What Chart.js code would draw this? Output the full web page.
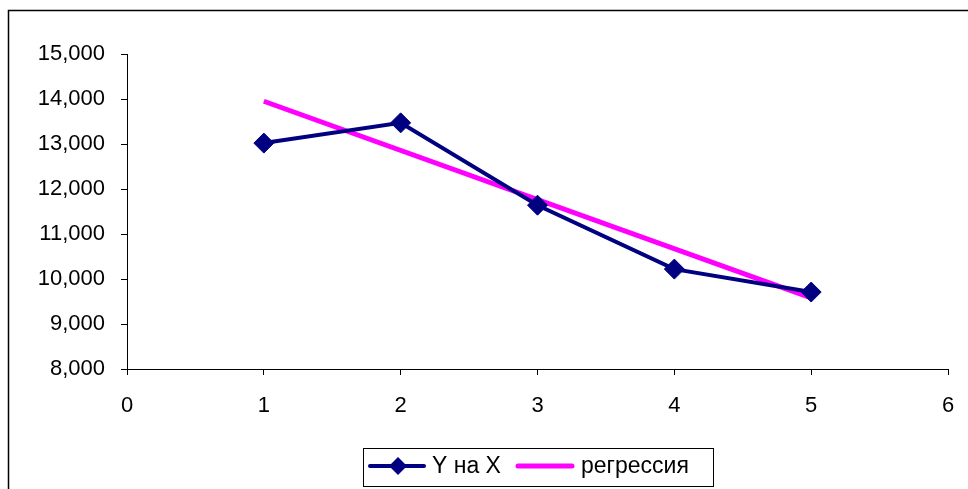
<!DOCTYPE html>
<html>
<head>
<meta charset="utf-8">
<script src="https://cdn.jsdelivr.net/npm/chart.js@4/dist/chart.umd.min.js"></script>
<style>
  html, body { margin: 0; padding: 0; background: #fff; overflow: hidden; }
  #wrap { width: 968px; height: 489px; position: relative; }
  canvas { display: block; }
</style>
</head>
<body>
<div id="wrap"><canvas id="chart"></canvas></div>
<script>
// values
const xValues = [1, 2, 3, 4, 5];
const yValues = [13020, 13470, 11640, 10220, 9710];
const regX = [1, 5];
const regY = [13950, 9580];
const seriesNames = ['Y на X', 'регрессия'];
const xTicks = [0, 1, 2, 3, 4, 5, 6];
const yTicks = [8000, 9000, 10000, 11000, 12000, 13000, 14000, 15000];

const navy = '#000080';
const magenta = '#FF00FF';
const fontFamily = '"Liberation Sans", Arial, sans-serif';

// frame round the whole chart + the boxed legend at the bottom
const framePlugin = {
    id: 'frame',
    beforeDraw(chart) {
        const ctx = chart.ctx;
        ctx.save();
        ctx.strokeStyle = '#000';
        ctx.lineWidth = 1.5;
        ctx.strokeRect(8.5, 10.5, 1100, 1100);
        ctx.restore();
    },
    afterDraw(chart) {
        const ctx = chart.ctx;
        ctx.save();
        ctx.fillStyle = '#fff';
        ctx.fillRect(363, 448, 350, 38);
        ctx.strokeStyle = '#000';
        ctx.lineWidth = 1;
        ctx.strokeRect(363.5, 448.5, 350, 38);

        const y = 466;
        // first item: line with diamond
        ctx.strokeStyle = navy;
        ctx.lineWidth = 4;
        ctx.lineCap = 'round';
        ctx.beginPath();
        ctx.moveTo(370, y);
        ctx.lineTo(424, y);
        ctx.stroke();
        ctx.fillStyle = navy;
        ctx.beginPath();
        ctx.moveTo(398, y - 9);
        ctx.lineTo(407, y);
        ctx.lineTo(398, y + 9);
        ctx.lineTo(389, y);
        ctx.closePath();
        ctx.fill();
        // second item: plain magenta line
        ctx.strokeStyle = magenta;
        ctx.lineWidth = 5;
        ctx.beginPath();
        ctx.moveTo(518, y);
        ctx.lineTo(572, y);
        ctx.stroke();

        ctx.fillStyle = '#000';
        ctx.font = '23px ' + fontFamily;
        ctx.textBaseline = 'middle';
        ctx.fillText(seriesNames[0], 432, y + 1);
        ctx.fillText(seriesNames[1], 581, y + 1);
        ctx.restore();
    }
};

const config = {
    type: 'scatter',
    data: {
        datasets: [
            {
                label: seriesNames[1],
                data: regX.map((x, i) => ({ x: x, y: regY[i] })),
                showLine: true,
                borderColor: magenta,
                borderWidth: 5,
                pointRadius: 0,
                order: 2
            },
            {
                label: seriesNames[0],
                data: xValues.map((x, i) => ({ x: x, y: yValues[i] })),
                showLine: true,
                borderColor: navy,
                borderWidth: 4,
                backgroundColor: navy,
                pointStyle: 'rectRot',
                pointRadius: 10,
                pointBorderWidth: 1,
                pointBorderColor: navy,
                pointBackgroundColor: navy,
                order: 1
            }
        ]
    },
    options: {
        responsive: true,
        maintainAspectRatio: false,
        animation: false,
        layout: {
            padding: { top: 54, right: 20, left: 0, bottom: 0 }
        },
        plugins: {
            legend: { display: false },
            tooltip: { enabled: false }
        },
        scales: {
            x: {
                type: 'linear',
                min: 0,
                max: 6,
                afterBuildTicks: (scale) => { scale.ticks = xTicks.map(v => ({ value: v })); },
                afterFit: (scale) => {
                    scale.height = 120;
                    scale.paddingLeft = 0;
                    scale.paddingRight = 0;
                },
                grid: {
                    drawOnChartArea: false,
                    color: '#000',
                    tickLength: 6,
                    tickColor: '#000'
                },
                border: { color: '#000', width: 1 },
                ticks: {
                    color: '#000',
                    padding: 18,
                    maxRotation: 0,
                    font: { family: fontFamily, size: 22 }
                }
            },
            y: {
                min: 8000,
                max: 15000,
                afterBuildTicks: (scale) => { scale.ticks = yTicks.map(v => ({ value: v })); },
                afterFit: (scale) => { scale.width = 127; },
                grid: {
                    drawOnChartArea: false,
                    color: '#000',
                    tickLength: 6,
                    tickColor: '#000'
                },
                border: { color: '#000', width: 1 },
                ticks: {
                    color: '#000',
                    padding: 16,
                    font: { family: fontFamily, size: 22 },
                    callback: (v) => v.toLocaleString('en-US')
                }
            }
        }
    },
    plugins: [framePlugin]
};

new Chart(document.getElementById('chart'), config);
</script>
</body>
</html>
